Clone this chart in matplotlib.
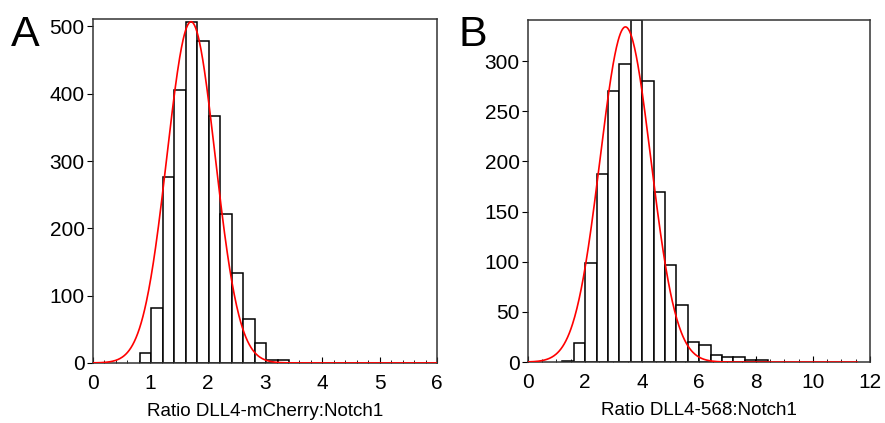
import numpy as np
import matplotlib.pyplot as plt
from matplotlib.ticker import MultipleLocator

plt.rcParams['font.family'] = ['Liberation Sans', 'DejaVu Sans']

# panel A: DLL4-mCherry:Notch1, bins of 0.2
a_start = 0.82
a_width = 0.2
a_counts = [15, 82, 276, 406, 506, 478, 367, 222, 133, 65, 30, 5, 4]
a_fit = (507, 1.71, 0.42)   # amplitude, mean, sigma
a_fit_range = (0, 6)

# panel B: DLL4-568:Notch1, bins of 0.4
b_start = 1.21
b_width = 0.4
b_counts = [1, 19, 99, 187, 270, 297, 341, 280, 169, 97, 57, 20, 17, 7, 5, 5, 2, 2]
b_fit = (334, 3.42, 0.89)
b_fit_range = (0, 11.55)

fig = plt.figure(figsize=(8.85, 4.23), dpi=100)
axA = fig.add_axes([0.105, 0.142, 0.389, 0.813])
axB = fig.add_axes([0.5966, 0.144, 0.3864, 0.809])


def draw(ax, start, width, counts, fit, frange, xlim, ylim, xmaj, xmin, ymaj, xlabel):
    edges = start + width * np.arange(len(counts))
    ax.bar(edges, counts, width=width, align='edge', facecolor='white',
           edgecolor='black', linewidth=1.1, zorder=2)
    amp, mu, sig = fit
    xs = np.linspace(frange[0], frange[1], 600)
    ax.plot(xs, amp * np.exp(-(xs - mu) ** 2 / (2 * sig ** 2)), color='red', lw=1.2, zorder=3)
    ax.set_xlim(*xlim)
    ax.set_ylim(*ylim)
    ax.xaxis.set_major_locator(MultipleLocator(xmaj))
    ax.xaxis.set_minor_locator(MultipleLocator(xmin))
    ax.yaxis.set_major_locator(MultipleLocator(ymaj))
    ax.tick_params(axis='x', which='both', direction='in', labelsize=15, pad=8)
    ax.tick_params(axis='x', which='major', length=4)
    ax.tick_params(axis='x', which='minor', length=2.5)
    ax.tick_params(axis='y', direction='out', labelsize=15, length=4, pad=2)
    for s in ax.spines.values():
        s.set_color('#333333')
        s.set_linewidth(1.1)
    ax.set_xlabel(xlabel, fontsize=13.5, labelpad=7)


draw(axA, a_start, a_width, a_counts, a_fit, a_fit_range, (0, 6), (0, 511),
     1, 0.2, 100, 'Ratio DLL4-mCherry:Notch1')
draw(axB, b_start, b_width, b_counts, b_fit, b_fit_range, (0, 12), (0, 341),
     2, 0.5, 50, 'Ratio DLL4-568:Notch1')

fig.text(0.012, 0.965, 'A', fontsize=31, va='top', ha='left')
fig.text(0.518, 0.965, 'B', fontsize=31, va='top', ha='left')

fig.savefig('out.png', dpi=100)
